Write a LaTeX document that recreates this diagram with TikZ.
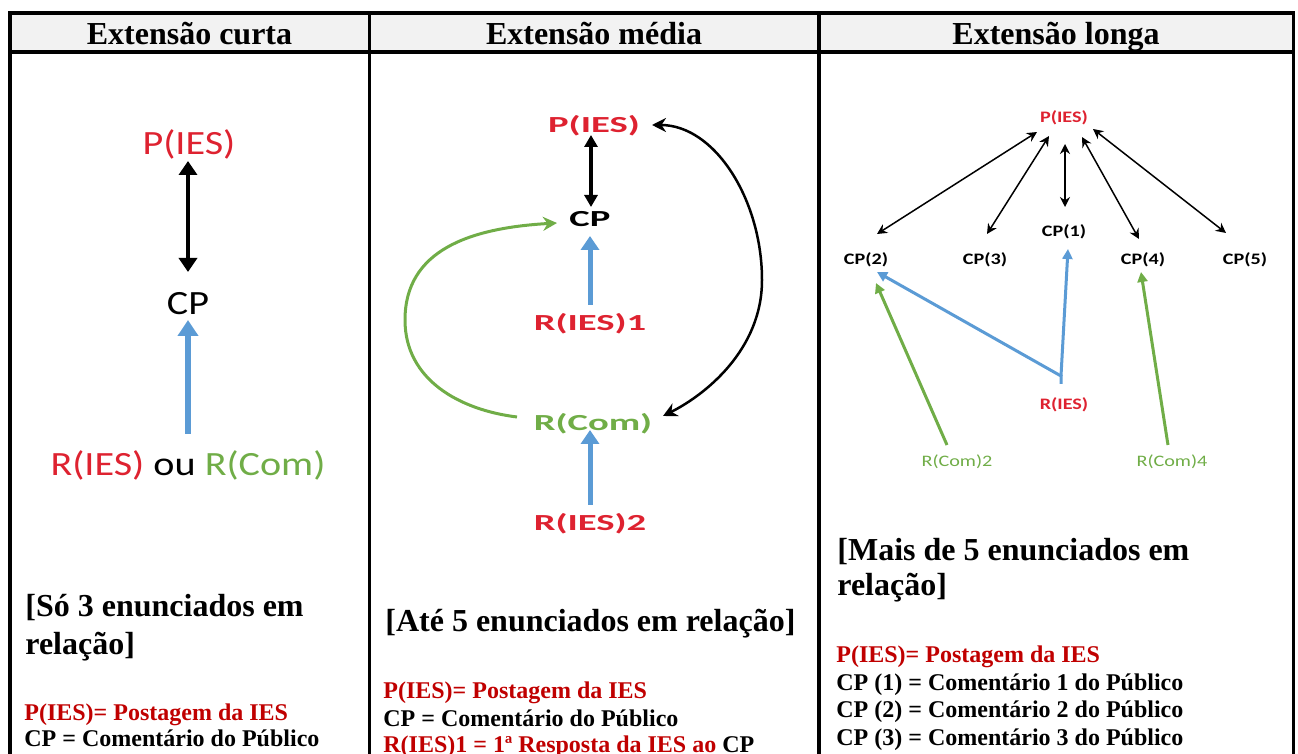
\documentclass[tikz,border=0pt]{standalone}
\usepackage{fontspec}
\setmainfont{Liberation Serif}
\newfontfamily\calcurta[FakeStretch=1.18]{Carlito}
\newfontfamily\calmedia[FakeStretch=1.68]{Carlito}
\newfontfamily\callonga[FakeStretch=1.26]{Carlito}
\usepackage{tikz}
\usetikzlibrary{arrows.meta, calc}
\definecolor{vermelho}{RGB}{222,34,48}
\definecolor{vermleg}{RGB}{192,0,0}
\definecolor{verde}{RGB}{112,173,71}
\definecolor{azul}{RGB}{91,155,213}
\definecolor{cinza}{RGB}{242,242,242}

\begin{document}
\begin{tikzpicture}[x=0.5pt, y=-0.5pt]
%
% Tabela: curta | media | longa
%   P(IES) <-> CP <- R(...)
%
\tikzstyle{grade} = [line width=1.65pt, line join=miter]
\tikzstyle{cabec} = [anchor=base, inner sep=0pt, font=\bfseries\fontsize{16}{19}\selectfont]
\tikzstyle{curta} = [inner sep=0pt, font=\calcurta\fontsize{17}{20}\selectfont]
\tikzstyle{media} = [inner sep=0pt, font=\calmedia\bfseries\fontsize{11.5}{14}\selectfont]
\tikzstyle{longa} = [inner sep=0pt, font=\callonga\bfseries\fontsize{8}{10}\selectfont]
\tikzstyle{longafina} = [inner sep=0pt, font=\callonga\fontsize{8}{10}\selectfont]
\tikzstyle{colchete} = [anchor=base west, inner sep=0pt, font=\bfseries\fontsize{16}{18.5}\selectfont]
\tikzstyle{legenda} = [anchor=base west, inner sep=0pt, font=\bfseries\fontsize{12}{14}\selectfont]
\tikzstyle{dupla1} = [line width=2pt, {Triangle[width=9pt,length=7pt]}-{Triangle[width=9pt,length=7pt]}]
\tikzstyle{subida1} = [azul, line width=3pt, -{Triangle[width=10pt,length=8pt]}]
\tikzstyle{dupla2} = [line width=1.75pt, {Triangle[width=6.5pt,length=6pt]}-{Triangle[width=6.5pt,length=6pt]}]
\tikzstyle{subida2} = [azul, line width=2.5pt, -{Triangle[width=9pt,length=7pt]}]
\tikzstyle{curvapreta} = [line width=1.25pt, {Stealth[width=7pt,length=7pt]}-{Stealth[width=7pt,length=7pt]}]
\tikzstyle{curvaverde} = [verde, line width=1.5pt, -{Stealth[width=7pt,length=7pt]}]
\tikzstyle{dupla3} = [line width=0.75pt, {Stealth[width=5pt,length=5pt]}-{Stealth[width=5pt,length=5pt]}]
\tikzstyle{subida3} = [azul, line width=1.5pt, -{Triangle[width=5pt,length=5pt]}]
\tikzstyle{subidaverde3} = [verde, line width=1.5pt, -{Triangle[width=5pt,length=5pt]}]
\useasboundingbox (0,0) rectangle (1298,754);
% Tabela
\fill[cinza] (10,13) rectangle (1293.5,52);
\draw[grade] (10,754) -- (10,13) -- (1293.5,13) -- (1293.5,754);
\draw[grade] (10,52) -- (1293.5,52);
\draw[grade] (369.5,13) -- (369.5,754);
\draw[grade] (819,13) -- (819,754);
\node (hcurta) [cabec] at (189.5,45) {Extensão curta};
\node (hmedia) [cabec] at (594,45) {Extensão média};
\node (hlonga) [cabec] at (1056,45) {Extensão longa};
% Extensao curta
\node (pc) [curta, vermelho] at (189,144) {P(IES)};
\node (cpc) [curta] at (188,304) {CP};
\node (rrc) [curta] at (188,465) {{\color{vermelho}R(IES)} ou {\color{verde}R(Com)}};
\draw [dupla1] ($(pc)+(-1,17)$) -- ($(cpc)+(0,-32)$);
\draw [subida1] ($(rrc)+(0,-31)$) -- ($(cpc)+(0,16)$);
\node (ccurta1) [colchete] at (25,617) {[Só 3 enunciados em};
\node (ccurta2) [colchete] at (25,654) {relação]};
\node (lcurta1) [legenda, vermleg] at (24,720) {P(IES)= Postagem da IES};
\node (lcurta2) [legenda] at (24,747) {CP = Comentário do Público};
% Extensao media
\node (pm) [media, vermelho] at (594,126) {P(IES)};
\node (cpm) [media] at (590,219) {CP};
\node (r1m) [media, vermelho] at (590,324) {R(IES)1};
\node (rcm) [media, verde] at (593,424) {R(Com)};
\node (r2m) [media, vermelho] at (590,524) {R(IES)2};
\draw [dupla2] ($(pm)+(-3,9)$) -- ($(cpm)+(1,-12)$);
\draw [subida2] ($(r1m)+(0,-19)$) -- ($(cpm)+(0,17)$);
\draw [subida2] ($(r2m)+(0,-19)$) -- ($(rcm)+(-3,6)$);
\draw [curvapreta] ($(pm)+(58,-1)$) .. controls (715,125) and (762,200) .. (762,280)
  .. controls (762,350) and (705,395) .. ($(rcm)+(70,-8)$);
\draw [curvaverde] ($(rcm)+(-76,-7)$) .. controls (460,410) and (405,380) .. (405,320)
  .. controls (405,250) and (470,228) .. ($(cpm)+(-33,4)$);
\node (cmedia) [colchete] at (385,632) {[Até 5 enunciados em relação]};
\node (lmedia1) [legenda, vermleg] at (383,698) {P(IES)= Postagem da IES};
\node (lmedia2) [legenda] at (383,726) {CP = Comentário do Público};
\node (lmedia3) [legenda, vermleg] at (383,752) {R(IES)1 = 1ª Resposta da IES ao {\color{black}CP}};
% Extensao longa
\node (pl) [longa, vermelho] at (1064,118) {P(IES)};
\node (cpl1) [longa] at (1064,232) {CP(1)};
\node (cpl2) [longa] at (866,260) {CP(2)};
\node (cpl3) [longa] at (985,260) {CP(3)};
\node (cpl4) [longa] at (1143,260) {CP(4)};
\node (cpl5) [longa] at (1245,260) {CP(5)};
\node (rl) [longa, vermelho] at (1064,405) {R(IES)};
\node (rcl2) [longafina, verde] at (957,462) {R(Com)2};
\node (rcl4) [longafina, verde] at (1172,462) {R(Com)4};
\draw [dupla3] ($(pl)+(-27,14)$) -- ($(cpl2)+(11,-26)$);
\draw [dupla3] ($(pl)+(-15,18)$) -- ($(cpl3)+(2,-26)$);
\draw [dupla3] ($(pl)+(1,26)$) -- ($(cpl1)+(1,-25)$);
\draw [dupla3] ($(pl)+(18,19)$) -- ($(cpl4)+(-4,-21)$);
\draw [dupla3] ($(pl)+(29,11)$) -- ($(cpl5)+(-19,-27)$);
\coordinate (junta) at ($(rl)+(-3,-29)$);
\draw [subida3] ($(rl)+(-3,-21)$) -- (junta) -- ($(cpl2)+(11,12)$);
\draw [subida3] (junta) -- ($(cpl1)+(4,17)$);
\draw [subidaverde3] ($(rcl2)+(-10,-17)$) -- ($(cpl2)+(10,23)$);
\draw [subidaverde3] ($(rcl4)+(-4,-17)$) -- ($(cpl4)+(-2,12)$);
\node (clonga1) [colchete] at (837,560) {[Mais de 5 enunciados em};
\node (clonga2) [colchete] at (837,596) {relação]};
\node (llonga0) [legenda, vermleg] at (836,662) {P(IES)= Postagem da IES};
\foreach \n/\yb in {1/690,2/718,3/746}
  \node (llonga\n) [legenda] at (836,\yb) {CP (\n) = Comentário \n\ do Público};
\end{tikzpicture}
\end{document}
